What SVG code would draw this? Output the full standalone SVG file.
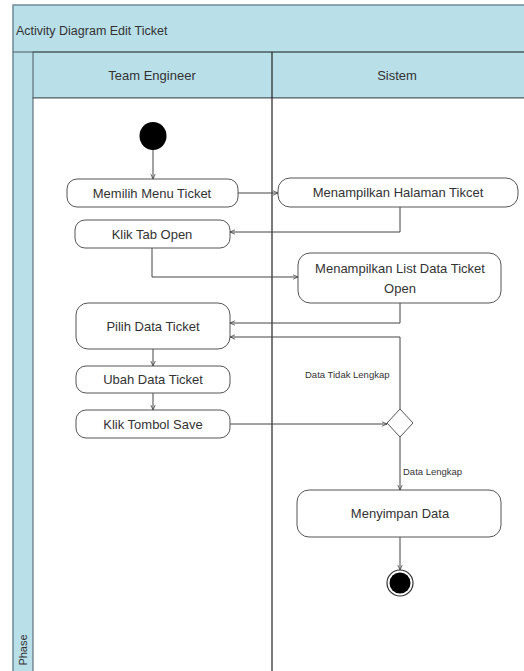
<svg xmlns="http://www.w3.org/2000/svg" width="524" height="671" viewBox="0 0 524 671">
<style>
.t{font-family:"Liberation Sans",Arial,sans-serif;fill:#333;text-anchor:middle;font-size:13px}
.box{fill:#fff;stroke:#555;stroke-width:1}
.c{fill:none;stroke:#444;stroke-width:1}
.lbl{font-family:"Liberation Sans",Arial,sans-serif;font-size:9.5px;fill:#333}
</style>
<defs>
<marker id="a" viewBox="0 0 10 10" refX="9" refY="5" markerWidth="6" markerHeight="6" orient="auto" markerUnits="userSpaceOnUse">
<path d="M0,1 L9,5 L0,9" fill="none" stroke="#333" stroke-width="1.2"/>
</marker>
</defs>
<g id="frame">
<rect x="0" y="0" width="524" height="671" fill="#fff"/>
<rect x="13" y="5" width="520" height="680" fill="#b9dfe9" stroke="#6e8a94" stroke-width="1.5"/>
<rect x="33" y="52" width="500" height="46" fill="#b9dfe9" stroke="#4a5a60" stroke-width="1"/>
<rect x="33" y="98" width="500" height="590" fill="#fff" stroke="#4a5a60" stroke-width="1"/>
<line x1="13" y1="52" x2="524" y2="52" stroke="#4a5a60" stroke-width="1"/>
<line x1="272" y1="52" x2="272" y2="671" stroke="#222" stroke-width="1.2"/>
<text x="16" y="35" font-family="Liberation Sans,Arial,sans-serif" font-size="12.5" fill="#333">Activity Diagram Edit Ticket</text>
<text class="t" x="152" y="80">Team Engineer</text>
<text class="t" x="397" y="80">Sistem</text>
<text x="27" y="650" font-family="Liberation Sans,Arial,sans-serif" font-size="11" fill="#333" text-anchor="middle" transform="rotate(-90 27 650)">Phase</text>
</g>
<g id="connectors">
<line class="c" x1="153" y1="150" x2="153" y2="179" marker-end="url(#a)"/>
<line class="c" x1="238" y1="193" x2="278" y2="193" marker-end="url(#a)"/>
<polyline class="c" points="400,207 400,232 230,232" marker-end="url(#a)"/>
<polyline class="c" points="152,248 152,277 298,277" marker-end="url(#a)"/>
<polyline class="c" points="400,303 400,323 230,323" marker-end="url(#a)"/>
<polyline class="c" points="400,409 400,337 230,337" marker-end="url(#a)"/>
<line class="c" x1="153" y1="349" x2="153" y2="366" marker-end="url(#a)"/>
<line class="c" x1="153" y1="393" x2="153" y2="410" marker-end="url(#a)"/>
<line class="c" x1="230" y1="424" x2="387" y2="424" marker-end="url(#a)"/>
<line class="c" x1="400" y1="437" x2="400" y2="490" marker-end="url(#a)"/>
<line class="c" x1="400" y1="537" x2="400" y2="570" marker-end="url(#a)"/>
<text class="lbl" x="305" y="378">Data Tidak Lengkap</text>
<text class="lbl" x="403" y="475">Data Lengkap</text>
</g>
<g id="start"><ellipse cx="153" cy="136" rx="13.5" ry="14" fill="#000"/></g>
<g id="memilih"><rect class="box" x="67" y="179" width="171" height="28" rx="10"/><text class="t" x="152" y="198">Memilih Menu Ticket</text></g>
<g id="halaman"><rect class="box" x="278" y="178" width="240" height="29" rx="12"/><text class="t" x="398" y="197">Menampilkan Halaman Tikcet</text></g>
<g id="kliktab"><rect class="box" x="75" y="220" width="155" height="28" rx="10"/><text class="t" x="152" y="239">Klik Tab Open</text></g>
<g id="list"><rect class="box" x="298" y="253" width="203" height="50" rx="12"/><text class="t" x="400" y="273">Menampilkan List Data Ticket</text><text class="t" x="400" y="293">Open</text></g>
<g id="pilih"><rect class="box" x="76" y="303" width="154" height="46" rx="12"/><text class="t" x="153" y="331">Pilih Data Ticket</text></g>
<g id="ubah"><rect class="box" x="76" y="366" width="154" height="27" rx="10"/><text class="t" x="153" y="384">Ubah Data Ticket</text></g>
<g id="klikSave"><rect class="box" x="76" y="410" width="154" height="28" rx="10"/><text class="t" x="153" y="429">Klik Tombol Save</text></g>
<g id="decision"><polygon points="400,409 413,423 400,437 387,423" fill="#fff" stroke="#555" stroke-width="1"/></g>
<g id="simpan"><rect class="box" x="297" y="490" width="204" height="47" rx="12"/><text class="t" x="400" y="518">Menyimpan Data</text></g>
<g id="end"><circle cx="400" cy="583" r="13" fill="#fff" stroke="#333" stroke-width="1.2"/><circle cx="400" cy="583" r="10.5" fill="#000"/></g>
</svg>
